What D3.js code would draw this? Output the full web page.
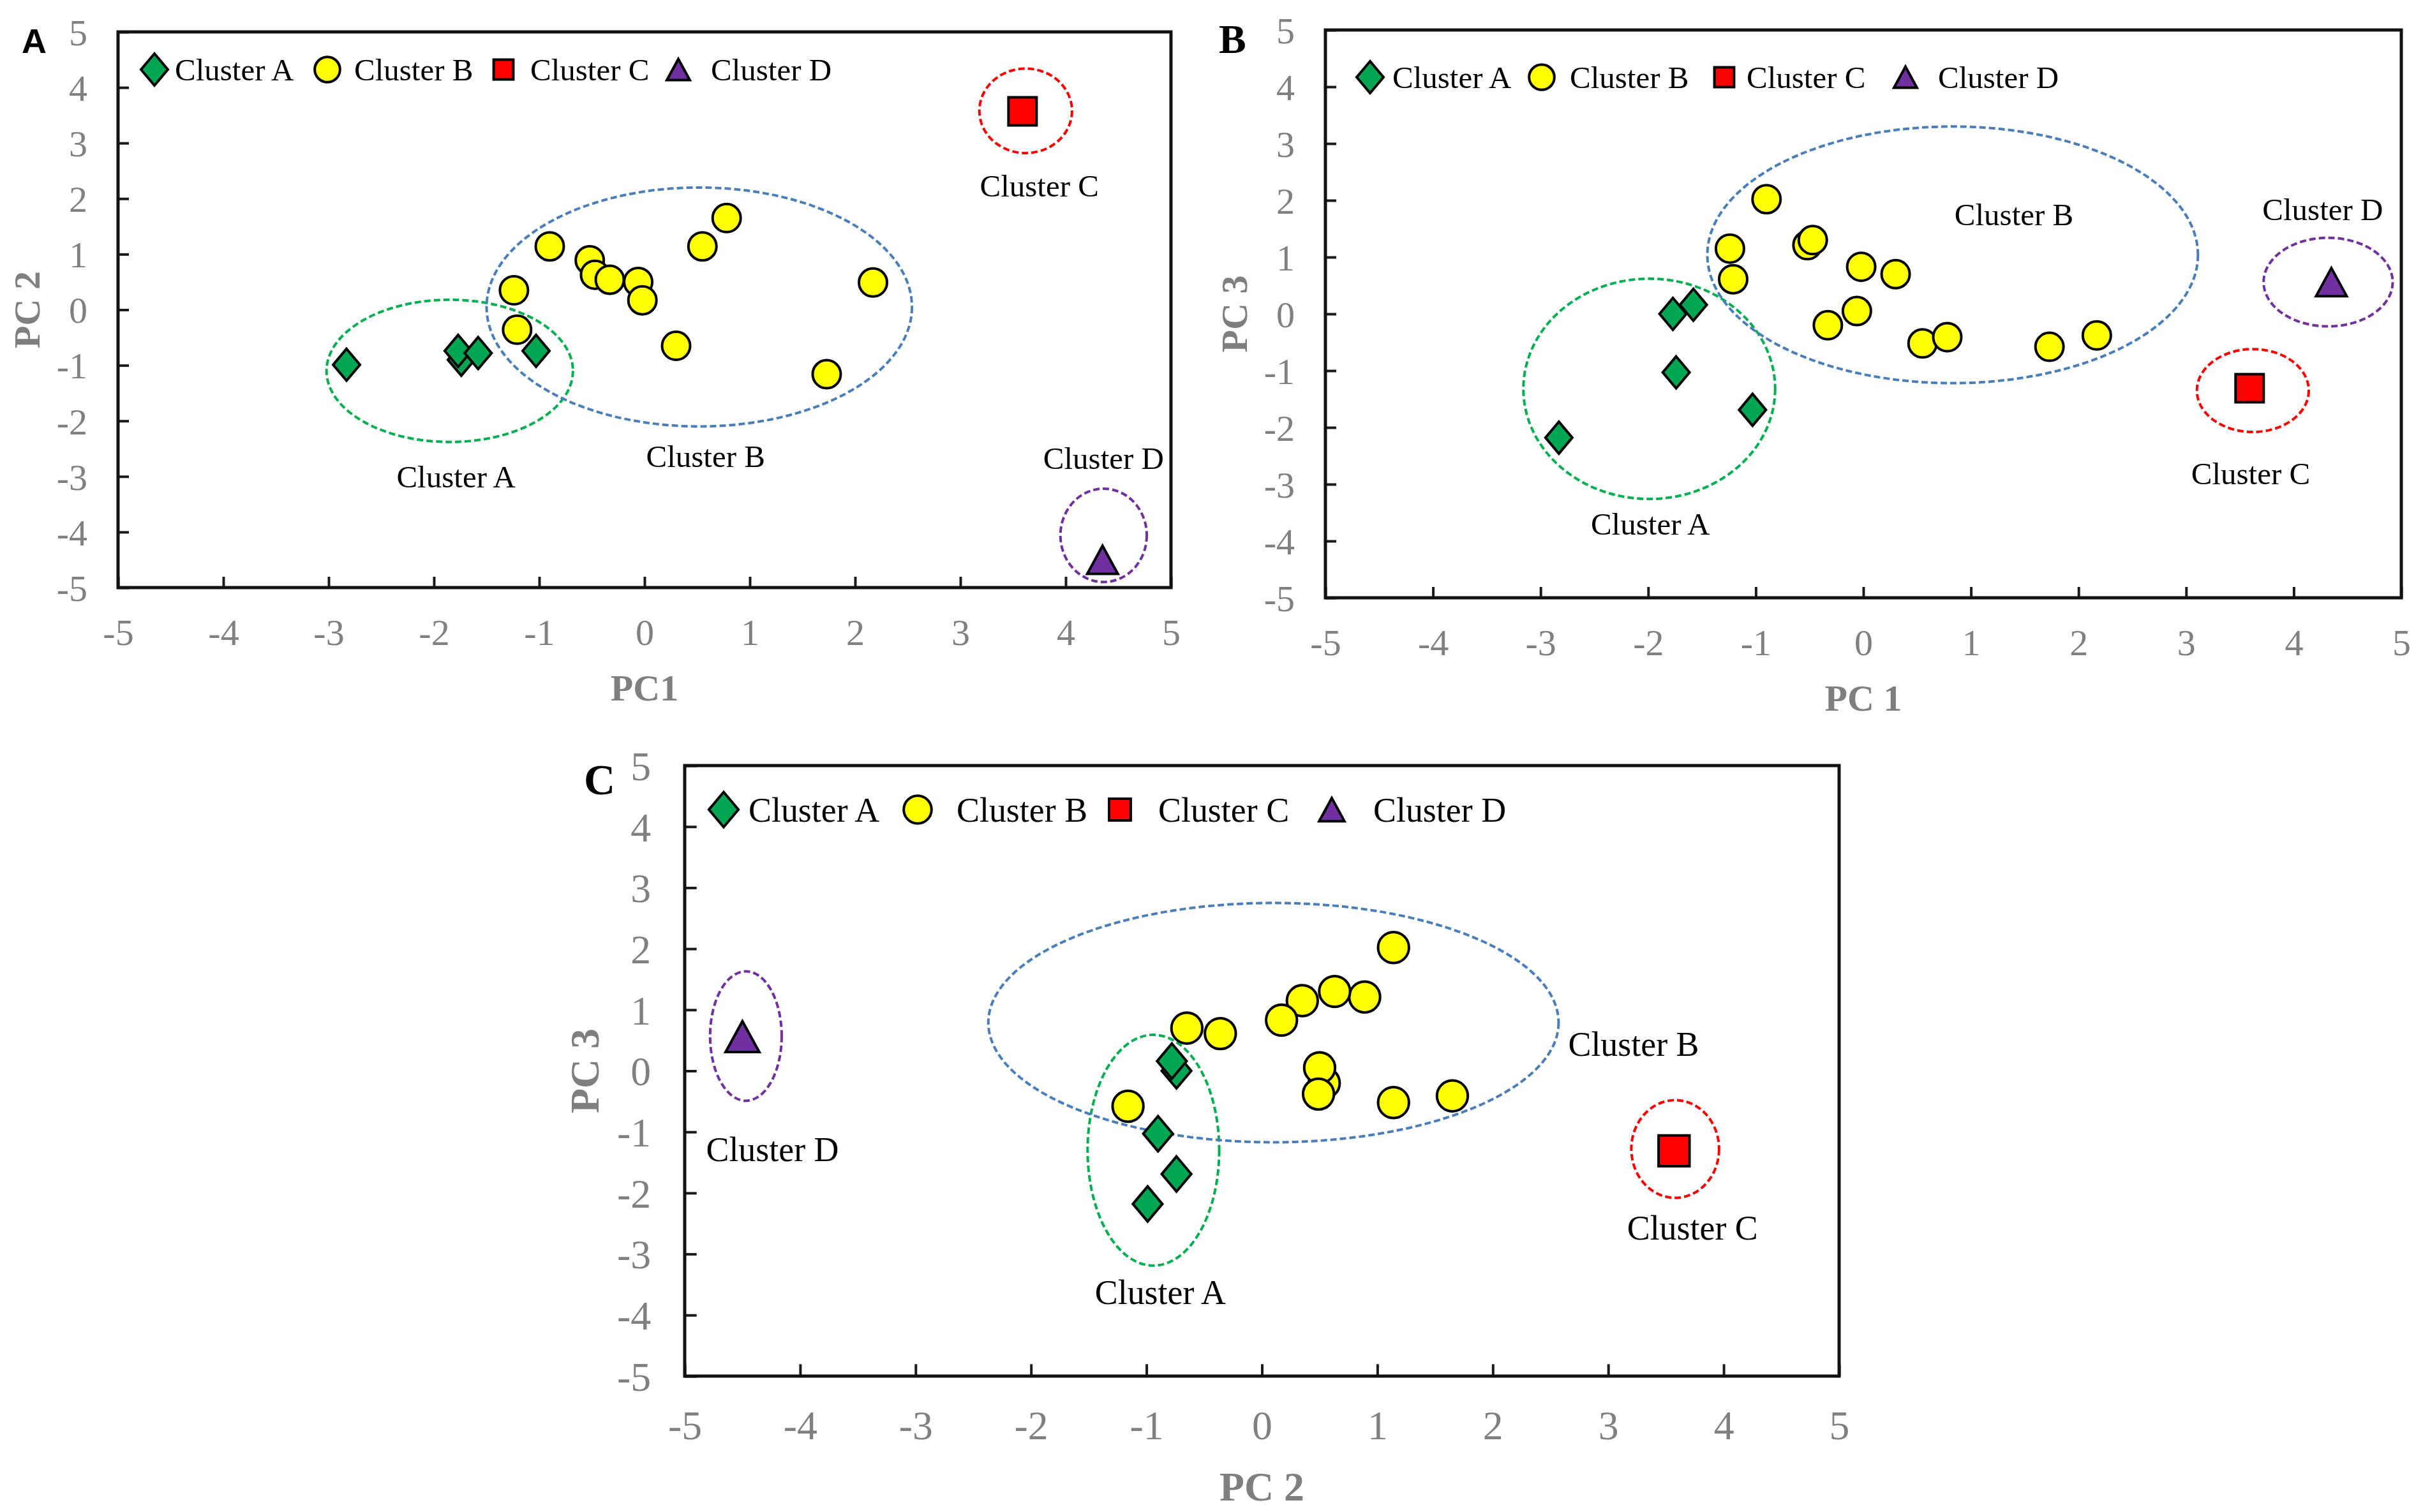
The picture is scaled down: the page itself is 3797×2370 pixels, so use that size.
<!DOCTYPE html>
<html lang="en">
<head>
  <meta charset="UTF-8">
  <title>PCA score plots</title>
  <style>
    body { margin: 0; background: #fff; }
    svg { display: block; }
  </style>
</head>
<body>
  <svg id="chart"></svg>
  <script src="https://cdnjs.cloudflare.com/ajax/libs/d3/7.8.5/d3.min.js"></script>
  <script>
    var clusterNames = ["Cluster A", "Cluster B", "Cluster C", "Cluster D"];
    var tickValues = [-5, -4, -3, -2, -1, 0, 1, 2, 3, 4, 5];

    // PCA scores, one array per cluster and component
    var pc1A = [-2.83, -1.74, -1.77, -1.58, -1.03];
    var pc2A = [-0.99, -0.90, -0.74, -0.78, -0.74];
    var pc3A = [-2.18, -1.03, 0.00, 0.16, -1.69];

    var pc1B = [-0.90, -1.24, -1.21, -0.52, -0.47, -0.33, -0.06, -0.02, 0.30, 0.55, 0.78, 2.17, 1.73];
    var pc2B = [1.14, 0.35, -0.36, 0.89, 0.63, 0.54, 0.50, 0.17, -0.65, 1.14, 1.65, 0.49, -1.16];
    var pc3B = [2.02, 1.15, 0.61, 1.21, 1.30, -0.20, 0.05, 0.83, 0.70, -0.52, -0.41, -0.38, -0.58];

    var pc1C = [3.59];
    var pc2C = [3.57];
    var pc3C = [-1.31];

    var pc1D = [4.35];
    var pc2D = [-4.50];
    var pc3D = [0.56];

    // dashed cluster rings [cx, cy, rx, ry] in axis units, order A, B, C, D
    var ringsA = [[-1.85, -1.10, 1.17, 1.28], [0.52, 0.05, 2.02, 2.15], [3.62, 3.58, 0.44, 0.76], [4.36, -4.06, 0.41, 0.84]];
    var ringsB = [[-1.99, -1.32, 1.17, 1.94], [0.83, 1.04, 2.28, 2.26], [3.62, -1.35, 0.52, 0.73], [4.32, 0.56, 0.60, 0.78]];
    var ringsC = [[-0.94, -1.30, 0.57, 1.89], [0.10, 0.79, 2.47, 1.96], [3.58, -1.28, 0.38, 0.80], [-4.47, 0.57, 0.31, 1.06]];

    // cluster name annotations [x, y] in axis units, order A, B, C, D
    var labelsA = [[-1.79, -3.00], [0.58, -2.63], [3.75, 2.24], [4.36, -2.67]];
    var labelsB = [[-1.98, -3.69], [1.40, 1.76], [3.60, -2.81], [4.27, 1.84]];
    var labelsC = [[-0.88, -3.62], [3.22, 0.44], [3.73, -2.57], [-4.24, -1.28]];

    var shapes = ["diamond", "circle", "square", "triangle"];
    var fills = ["#00A651", "#FFFF00", "#FF0000", "#7030A0"];
    var ringColors = ["#00B050", "#4A7EBB", "#FF0000", "#7030A0"];
    var legendScale = [1, 0.9, 0.7, 0.75];

    var serif = "'Liberation Serif', 'Times New Roman', serif";

    var panels = [
      { letter: "A", left: 185, top: 50, width: 1650, height: 871, k: 1.0,
        xs: [pc1A, pc1B, pc1C, pc1D], ys: [pc2A, pc2B, pc2C, pc2D],
        xTitle: "PC1", yTitle: "PC 2", rings: ringsA, labels: labelsA,
        legendY: 59, legendMarks: [57, 328, 604, 878], legendTexts: [89, 370, 646, 929],
        letterX: -151, letterY: 33, letterFont: "'Liberation Sans', Arial, sans-serif", letterSize: 54 },
      { letter: "B", left: 2077, top: 47, width: 1686, height: 890, k: 1.0,
        xs: [pc1A, pc1B, pc1C, pc1D], ys: [pc3A, pc3B, pc3C, pc3D],
        xTitle: "PC 1", yTitle: "PC 3", rings: ringsB, labels: labelsB,
        legendY: 74, legendMarks: [70, 339, 625, 909], legendTexts: [105, 383, 660, 960],
        letterX: -167, letterY: 36, letterFont: serif, letterSize: 64 },
      { letter: "C", left: 1073, top: 1200, width: 1809, height: 957, k: 1.1,
        xs: [pc2A, pc2B, pc2C, pc2D], ys: [pc3A, pc3B, pc3C, pc3D],
        xTitle: "PC 2", yTitle: "PC 3", rings: ringsC, labels: labelsC,
        legendY: 69, legendMarks: [61, 365, 682, 1014], legendTexts: [100, 426, 742, 1079],
        letterX: -158, letterY: 45, letterFont: serif, letterSize: 68 }
    ];

    function shapePath(shape, s) {
      if (shape === "diamond") {
        return "M0," + (-25 * s) + "L" + (21 * s) + ",0L0," + (25 * s) + "L" + (-21 * s) + ",0Z";
      }
      if (shape === "triangle") {
        return "M0," + (-22 * s) + "L" + (24 * s) + "," + (22 * s) + "L" + (-24 * s) + "," + (22 * s) + "Z";
      }
      if (shape === "square") {
        return d3.symbol().type(d3.symbolSquare).size(Math.pow(44 * s, 2))();
      }
      return d3.symbol().type(d3.symbolCircle).size(Math.PI * Math.pow(22 * s, 2))();
    }

    var svg = d3.select("#chart")
      .attr("width", 3797)
      .attr("height", 2370);

    panels.forEach(function (p) {
      var k = p.k;
      var g = svg.append("g").attr("transform", "translate(" + p.left + "," + p.top + ")");

      var x = d3.scaleLinear().domain([-5, 5]).range([0, p.width]);
      var y = d3.scaleLinear().domain([-5, 5]).range([p.height, 0]);

      // axes: inside ticks, grey labels
      var gx = g.append("g")
        .attr("transform", "translate(0," + p.height + ")")
        .call(d3.axisBottom(x).tickValues(tickValues).tickFormat(String)
          .tickSizeInner(-17 * k).tickSizeOuter(0));
      var gy = g.append("g")
        .call(d3.axisLeft(y).tickValues(tickValues).tickFormat(String)
          .tickSizeInner(-17 * k).tickSizeOuter(0));

      [gx, gy].forEach(function (ax) {
        ax.select(".domain").remove();
        ax.attr("font-family", serif).attr("font-size", 58 * k);
        ax.selectAll("line").attr("stroke", "#1a1a1a").attr("stroke-width", 4);
        ax.selectAll("text").attr("fill", "#808080");
      });
      gx.selectAll("text")
        .attr("y", 70 * k)
        .attr("dy", "0.35em");
      gy.selectAll("text")
        .attr("x", -48 * k)
        .attr("dy", "0.35em");

      // dashed rings round each cluster
      g.append("g").selectAll("ellipse")
        .data(p.rings)
        .enter()
        .append("ellipse")
        .attr("cx", function (d) { return x(d[0]); })
        .attr("cy", function (d) { return y(d[1]); })
        .attr("rx", function (d) { return x(d[0] + d[2]) - x(d[0]); })
        .attr("ry", function (d) { return y(d[1]) - y(d[1] + d[3]); })
        .attr("fill", "none")
        .attr("stroke", function (d, i) { return ringColors[i]; })
        .attr("stroke-width", 4)
        .attr("stroke-dasharray", "10,5");

      // points
      p.xs.forEach(function (xv, si) {
        var pts = xv.map(function (v, i) { return [v, p.ys[si][i]]; });
        g.append("g").selectAll("path")
          .data(pts)
          .enter()
          .append("path")
          .attr("d", shapePath(shapes[si], k))
          .attr("transform", function (d) { return "translate(" + x(d[0]) + "," + y(d[1]) + ")"; })
          .attr("fill", fills[si])
          .attr("stroke", "#000")
          .attr("stroke-width", 4)
          .attr("stroke-linejoin", "miter");
      });

      // cluster names
      g.append("g").selectAll("text")
        .data(p.labels)
        .enter()
        .append("text")
        .attr("x", function (d) { return x(d[0]); })
        .attr("y", function (d) { return y(d[1]); })
        .attr("dy", "0.35em")
        .attr("text-anchor", "middle")
        .attr("font-family", serif)
        .attr("font-size", 49 * k)
        .attr("fill", "#000")
        .text(function (d, i) { return clusterNames[i]; });

      // legend
      var lg = g.append("g");
      clusterNames.forEach(function (name, i) {
        lg.append("path")
          .attr("d", shapePath(shapes[i], legendScale[i] * k))
          .attr("transform", "translate(" + p.legendMarks[i] + "," + p.legendY + ")")
          .attr("fill", fills[i])
          .attr("stroke", "#000")
          .attr("stroke-width", 4);
        lg.append("text")
          .attr("x", p.legendTexts[i])
          .attr("y", p.legendY)
          .attr("dy", "0.35em")
          .attr("font-family", serif)
          .attr("font-size", 49 * k)
          .attr("fill", "#000")
          .text(name);
      });

      // plot frame
      g.append("rect")
        .attr("width", p.width)
        .attr("height", p.height)
        .attr("fill", "none")
        .attr("stroke", "#111")
        .attr("stroke-width", 5);

      // axis titles
      g.append("text")
        .attr("x", p.width / 2)
        .attr("y", p.height + 157 * k)
        .attr("dy", "0.35em")
        .attr("text-anchor", "middle")
        .attr("font-family", serif)
        .attr("font-weight", "bold")
        .attr("font-size", 58 * k)
        .attr("fill", "#7F7F7F")
        .text(p.xTitle);
      g.append("text")
        .attr("transform", "translate(" + (-143 * k) + "," + (p.height / 2) + ") rotate(-90)")
        .attr("dy", "0.35em")
        .attr("text-anchor", "middle")
        .attr("font-family", serif)
        .attr("font-weight", "bold")
        .attr("font-size", 58 * k)
        .attr("fill", "#7F7F7F")
        .text(p.yTitle);

      // panel letter
      g.append("text")
        .attr("x", p.letterX)
        .attr("y", p.letterY)
        .attr("font-family", p.letterFont)
        .attr("font-weight", "bold")
        .attr("font-size", p.letterSize)
        .attr("fill", "#000")
        .text(p.letter);
    });
  </script>
</body>
</html>
